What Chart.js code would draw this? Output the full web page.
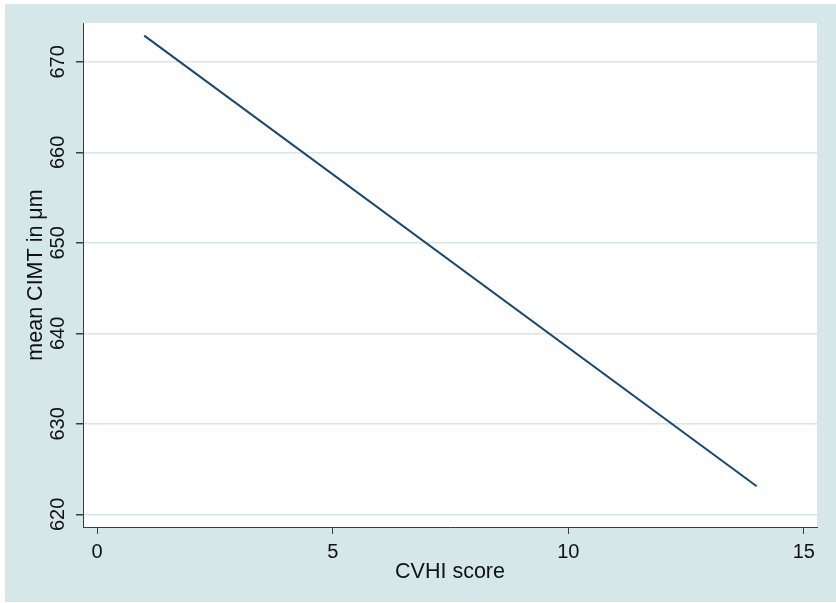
<!DOCTYPE html>
<html>
<head>
<meta charset="utf-8">
<script src="https://cdn.jsdelivr.net/npm/chart.js@4/dist/chart.umd.min.js"></script>
<style>
  html, body { margin: 0; padding: 0; background: #ffffff; }
  #wrap { position: absolute; left: 5px; top: 4px; width: 831px; height: 598px; background: #d6e7e9; }
</style>
</head>
<body>
<div id="wrap"><canvas id="cimtChart" width="831" height="598"></canvas></div>
<script>
// fitted line: CVHI score vs mean CIMT
var cvhiScore = [1, 14];
var meanCimt = [672.9, 623.1];
var xTicks = [0, 5, 10, 15];
var yTicks = [620, 630, 640, 650, 660, 670];

var font = "'Liberation Sans', Arial, sans-serif";
var axisColor = '#3c3c3c';
var gridColor = '#d6e7e9';

// white plot region
var plotBg = {
    id: 'plotBg',
    beforeDraw: function (chart) {
        var a = chart.chartArea;
        var c = chart.ctx;
        c.save();
        c.fillStyle = '#ffffff';
        c.fillRect(a.left, a.top, a.right - a.left, a.bottom - a.top);
        c.restore();
    }
};

var ctx = document.getElementById('cimtChart').getContext('2d');
var cimtChart = new Chart(ctx, {
    type: 'scatter',
    data: {
        datasets: [{
            label: 'mean CIMT',
            data: cvhiScore.map(function (x, i) { return { x: x, y: meanCimt[i] }; }),
            showLine: true,
            borderColor: '#1a476f',
            borderWidth: 2,
            pointRadius: 0,
            fill: false
        }]
    },
    options: {
        responsive: false,
        animation: false,
        layout: { padding: { top: 19, right: 19, left: 0, bottom: 0 } },
        plugins: {
            legend: { display: false },
            tooltip: { enabled: false }
        },
        scales: {
            x: {
                type: 'linear',
                min: -0.3,
                max: 15.28,
                afterBuildTicks: function (s) { s.ticks = xTicks.map(function (v) { return { value: v }; }); },
                afterFit: function (s) { s.height = 75; },
                grid: { drawOnChartArea: false, tickLength: 7, tickColor: axisColor },
                border: { color: axisColor, width: 1 },
                ticks: { color: '#111', padding: 6, maxRotation: 0, font: { family: font, size: 20 } },
                title: {
                    display: true,
                    text: 'CVHI score',
                    color: '#111',
                    font: { family: font, size: 21.5 },
                    padding: { top: 0, bottom: 17 }
                }
            },
            y: {
                type: 'linear',
                min: 618.6,
                max: 674.3,
                afterBuildTicks: function (s) { s.ticks = yTicks.map(function (v) { return { value: v }; }); },
                afterFit: function (s) { s.width = 78; },
                grid: { color: gridColor, lineWidth: 1.5, tickLength: 7, tickColor: axisColor },
                border: { color: axisColor, width: 1 },
                ticks: { color: '#111', padding: 1, minRotation: 90, maxRotation: 90, crossAlign: 'center', font: { family: font, size: 20 } },
                title: {
                    display: true,
                    text: 'mean CIMT in μm',
                    color: '#111',
                    font: { family: font, size: 21.5 },
                    padding: { top: 18.6, bottom: 0 }
                }
            }
        }
    },
    plugins: [plotBg]
});
</script>
</body>
</html>
